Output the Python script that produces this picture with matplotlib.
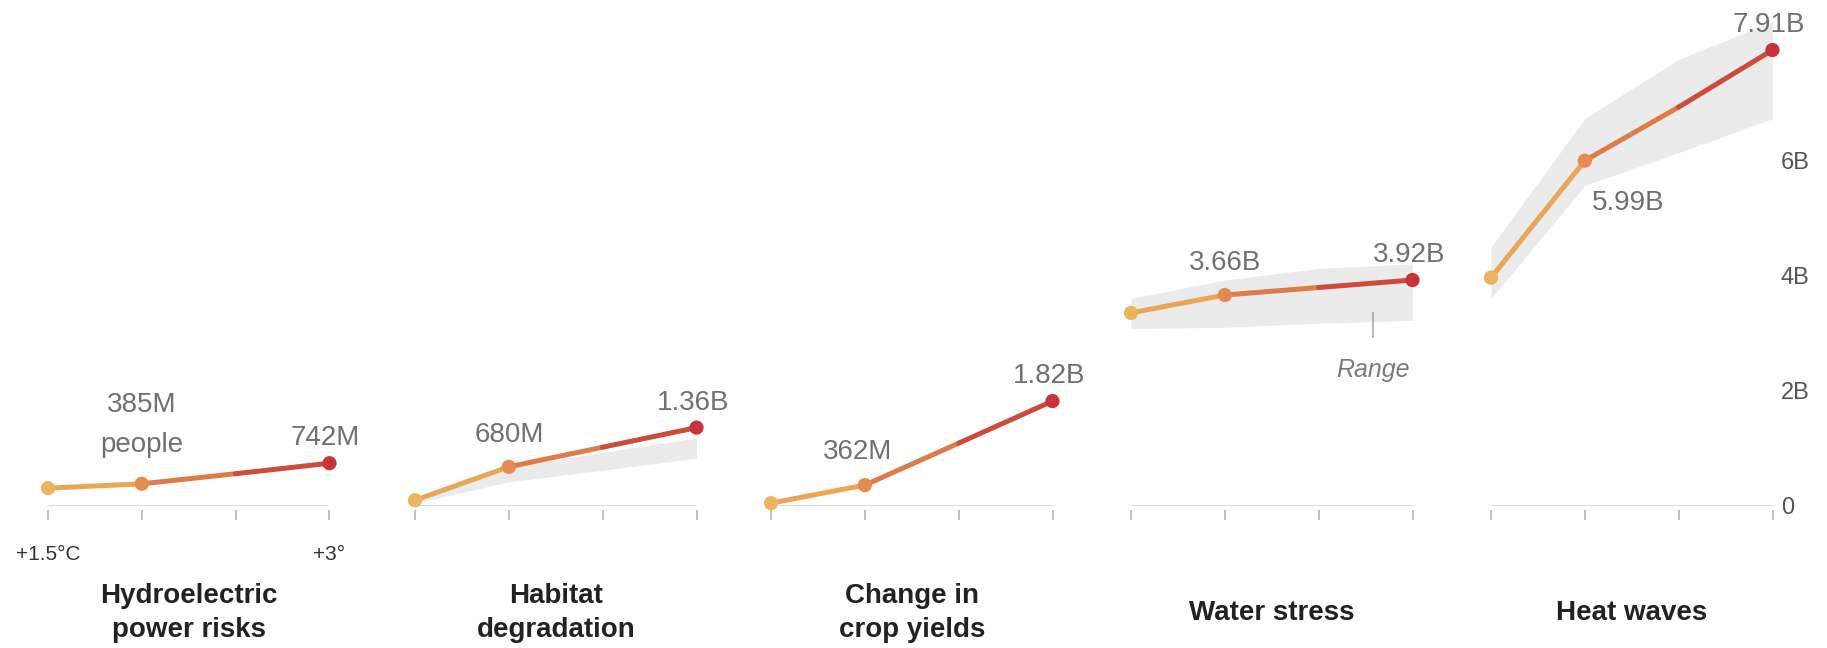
import numpy as np
import matplotlib.pyplot as plt
from matplotlib.collections import LineCollection

plt.rcParams['font.family'] = ['Liberation Sans', 'DejaVu Sans']

# warming levels (deg C) and people exposed (billions)
warming = [1.5, 2.0, 2.5, 3.0]
titles = ['Hydroelectric\npower risks', 'Habitat\ndegradation', 'Change in\ncrop yields',
          'Water stress', 'Heat waves']

hydro = [0.31, 0.385, 0.56, 0.742]
habitat = [0.10, 0.68, 1.02, 1.36]
crops = [0.05, 0.362, 1.09, 1.82]
water = [3.35, 3.66, 3.79, 3.92]
heat = [3.96, 5.99, 6.92, 7.91]

# range bands (None = no band)
habitat_low = [0.05, 0.42, 0.62, 0.83]
habitat_high = [0.10, 0.68, 0.93, 1.18]
water_low = [3.08, 3.10, 3.17, 3.22]
water_high = [3.60, 3.92, 4.12, 4.20]
heat_low = [3.60, 5.56, 6.13, 6.72]
heat_high = [4.49, 6.72, 7.75, 8.40]

mid_labels = ['385M', '680M', '362M', '3.66B', '5.99B']
end_labels = ['742M', '1.36B', '1.82B', '3.92B', '7.91B']

yticks = [0, 2, 4, 6]
ytick_labels = ['0', '2B', '4B', '6B']

series = [hydro, habitat, crops, water, heat]
lows = [None, habitat_low, None, water_low, heat_low]
highs = [None, habitat_high, None, water_high, heat_high]

# styling
seg_colors = ['#E9A656', '#DE7C48', '#CE4A3D']
dot_colors = ['#ECB45E', '#E38B50', '#C8323C']
lefts = [48, 415, 771, 1131, 1491]
mid_dy = [1.37, 0.55, 0.58, 0.55, -0.74]
mid_dx = [0.0, 0.0, -0.04, 0.0, 0.23]
label_gray = '#707070'

fig = plt.figure(figsize=(18.27, 6.48), dpi=100)
W, H = 1827, 648
axes = []
for i in range(5):
    ax = fig.add_axes([lefts[i] / W, 1 - 506 / H, 281.5 / W, 490 / H])
    axes.append(ax)
    y = series[i]
    ax.set_xlim(1.5, 3.0)
    ax.set_ylim(0, 8.5)

    if lows[i] is not None:
        ax.fill_between(warming, lows[i], highs[i], color='#ebebeb', lw=0, zorder=1)

    # baseline
    ax.hlines(0, warming[0], warming[-1], color='#cfcfcf', lw=1.8, zorder=0)

    segs = [[(warming[k], y[k]), (warming[k + 1], y[k + 1])] for k in range(len(y) - 1)]
    lc = LineCollection(segs, colors=seg_colors, linewidths=3.6, capstyle='round',
                        joinstyle='round', zorder=3)
    lc.set_clip_on(False)
    ax.add_collection(lc)
    ax.scatter([warming[0], warming[1], warming[3]], [y[0], y[1], y[3]],
               s=105, c=dot_colors, zorder=4, clip_on=False, linewidths=0)

    ax.text(warming[1] + mid_dx[i], y[1] + mid_dy[i], mid_labels[i], ha='center',
            va='center', fontsize=20, color=label_gray, zorder=5)
    ax.text(warming[3] - 0.02, y[3] + 0.43, end_labels[i], ha='center', va='center',
            fontsize=20, color=label_gray, zorder=5)

    for s in ['top', 'right', 'left']:
        ax.spines[s].set_visible(False)
    ax.spines['bottom'].set_visible(False)
    ax.spines['bottom'].set_position(('outward', 3))
    ax.set_xticks(warming)
    ax.tick_params(axis='x', length=7, width=1.4, color='#c0c0c0', pad=18,
                   labelsize=15, labelcolor='#333333')
    ax.set_xticklabels([])
    ax.set_yticks([])

    ax.text(0.5, -0.218, titles[i], transform=ax.transAxes, ha='center', va='center',
            fontsize=20, fontweight='bold', color='#222222', linespacing=1.4,
            family=['Liberation Sans Narrow', 'Liberation Sans', 'DejaVu Sans'])

# first panel annotations
axes[0].text(warming[1], hydro[1] + 0.68, 'people', ha='center', va='center',
             fontsize=20, color=label_gray)
axes[0].set_xticklabels(['+1.5°C', '', '', '+3°'])

# range annotation
axes[3].vlines(2.79, 2.91, 3.36, color='#aaaaaa', lw=1.2, zorder=2)
axes[3].text(2.79, 2.36, 'Range', ha='center', va='center', fontsize=18,
             style='italic', color='#7a7a7a')

# y axis on the right of last panel
ax5 = axes[4]
ax5.yaxis.tick_right()
ax5.set_yticks(yticks)
ax5.set_yticklabels(ytick_labels)
ax5.tick_params(axis='y', length=0, pad=6, labelsize=17, labelcolor='#555555')

fig.savefig('out.png', dpi=100, facecolor='white')
